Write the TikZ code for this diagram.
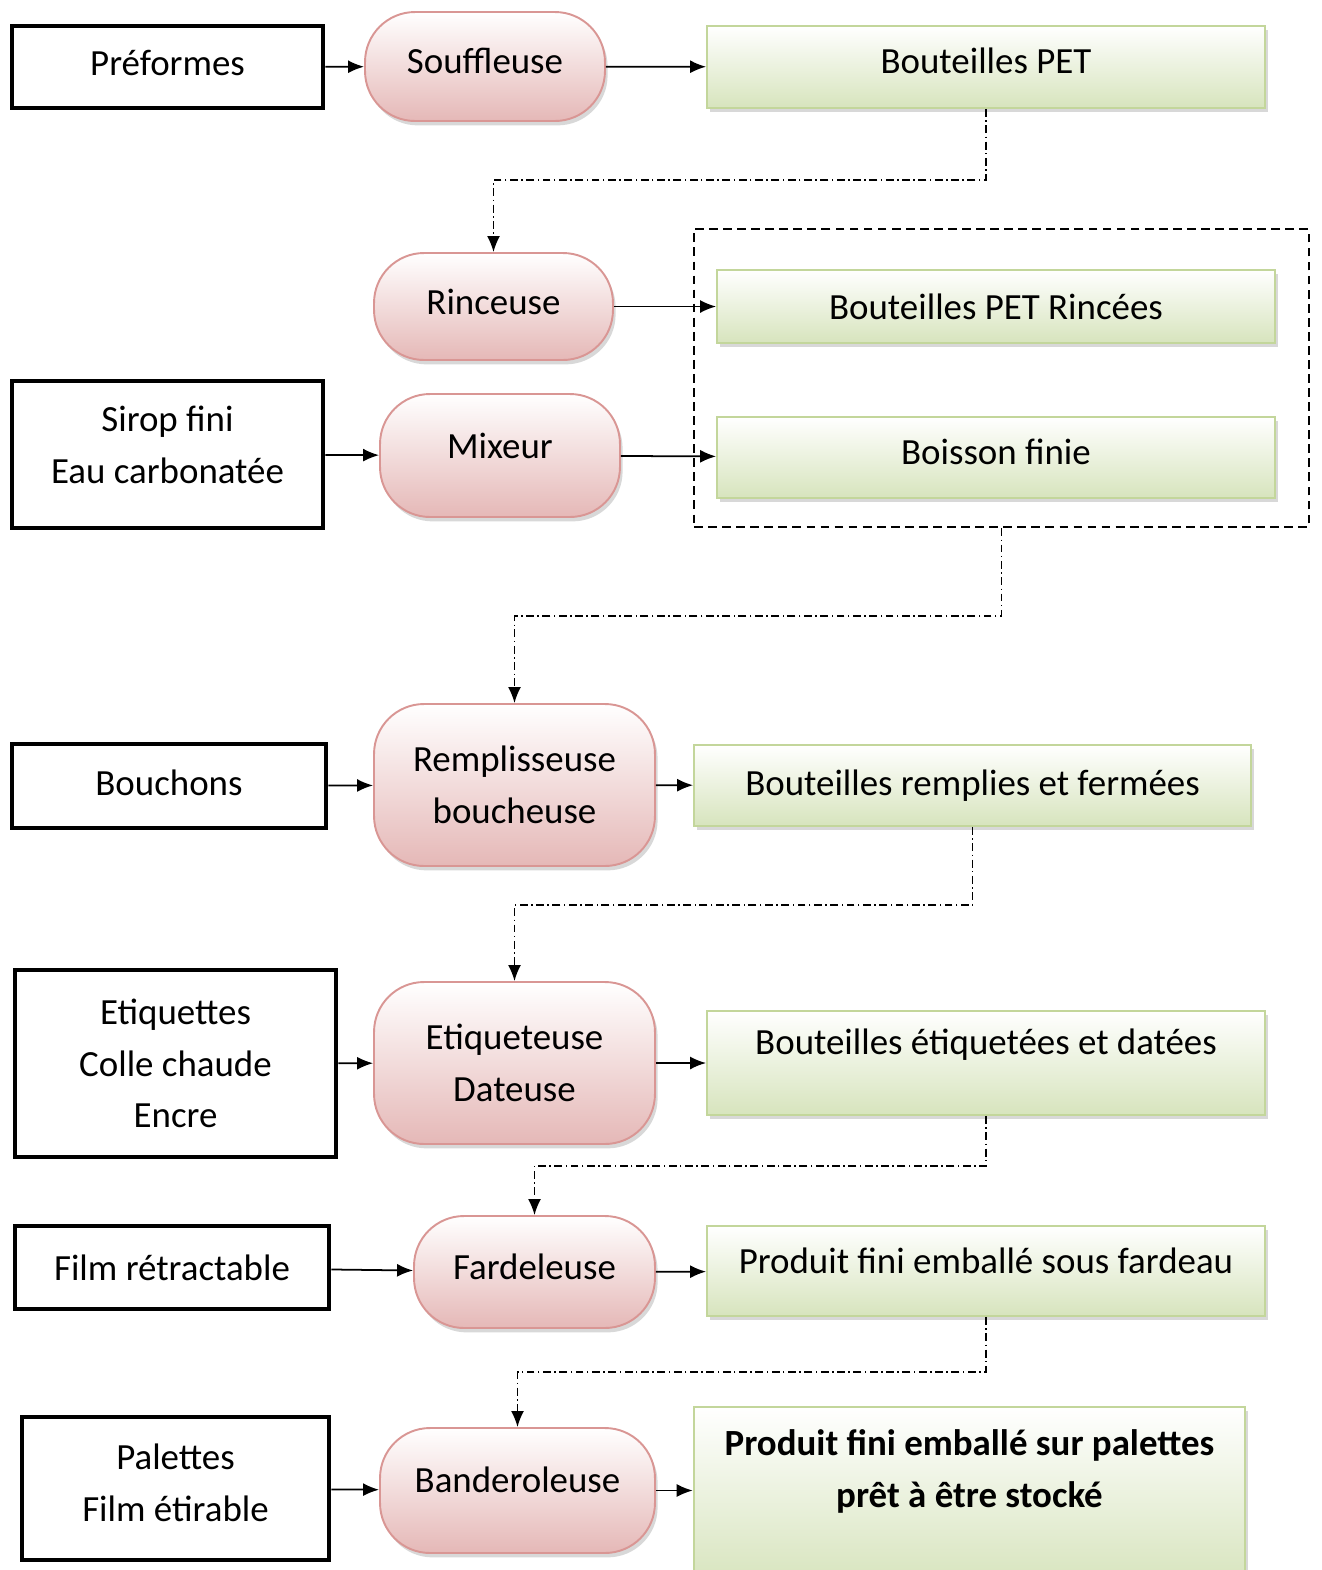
\documentclass[tikz,border=0pt]{standalone}
\usepackage{fontspec}
\setmainfont{Carlito}
\usetikzlibrary{shapes,arrows.meta,positioning,shadows}
\definecolor{procborder}{RGB}{217,150,148}
\definecolor{procfill}{RGB}{229,184,183}
\definecolor{outborder}{RGB}{195,214,155}
\definecolor{outfill}{RGB}{215,228,189}
\tikzset{
  bigfont/.style={font=\fontsize{21}{29.5}\selectfont},
  inbox/.style={draw, line width=2.8pt, align=center, bigfont},
  process/.style={draw=procborder, line width=1.1pt, rounded corners=1cm, top color=white, bottom color=procfill,
    drop shadow={shadow xshift=1.5pt, shadow yshift=-2.5pt, fill=gray!60}, align=center, bigfont},
  product/.style={draw=outborder, line width=1.1pt, top color=white, bottom color=outfill,
    drop shadow={shadow xshift=1.5pt, shadow yshift=-2.5pt, fill=gray!60}, minimum width=11.16cm, align=center, bigfont},
  flow/.style={-{Latex[length=0.32cm, width=0.26cm]}, line width=1pt},
  link/.style={flow, dash pattern=on 4.5pt off 2pt on 0.8pt off 2pt}
}

\begin{document}
\begin{tikzpicture}[x=0.02cm, y=-0.02cm]
        \useasboundingbox (0,0) rectangle (1322,1570);

        \node[draw, line width=1.4pt, dash pattern=on 5pt off 3pt, minimum width=12.3cm, minimum height=5.96cm] (grp) at (1001.5,378) {};

        \node[inbox, minimum width=6.22cm, minimum height=1.64cm, text depth=0.16cm] (pref) at (167.5,67) {Préformes};
        \node[process, minimum width=4.8cm, minimum height=2.18cm, text depth=0.24cm] (souf) at (485,66.5) {Souffleuse};
        \node[product, minimum height=1.64cm, text depth=0.24cm] (pet) at (986,67) {Bouteilles PET};

        \node[process, minimum width=4.78cm, minimum height=2.14cm, text depth=0.2cm] (rinc) at (493.5,306.5) {Rinceuse};
        \node[product, minimum height=1.46cm] (rincees) at (996,306.5) {Bouteilles PET Rincées};

        \node[inbox, minimum width=6.22cm, minimum height=2.94cm, text depth=0.4cm] (sirop) at (167.5,454.5) {Sirop fini\\Eau carbonatée};
        \node[process, minimum width=4.8cm, minimum height=2.46cm, text depth=0.4cm] (mix) at (500,455.5) {Mixeur};
        \node[product, minimum height=1.62cm, text depth=0.24cm] (boisson) at (996,457.5) {Boisson finie};

        \node[inbox, minimum width=6.28cm, minimum height=1.68cm, text depth=0.12cm] (bouch) at (169,786) {Bouchons};
        \node[process, minimum width=5.62cm, minimum height=3.24cm] (remp) at (514.5,785) {Remplisseuse\\boucheuse};
        \node[product, minimum width=11.14cm, minimum height=1.62cm, text depth=0.12cm] (remplies) at (972.5,785.5) {Bouteilles remplies et fermées};

        \node[inbox, minimum width=6.42cm, minimum height=3.74cm] (etiq) at (175.5,1063.5) {Etiquettes\\Colle chaude\\Encre};
        \node[process, minimum width=5.62cm, minimum height=3.24cm] (etiqd) at (514.5,1063) {Etiqueteuse\\Dateuse};
        \node[product, minimum height=2.08cm, text depth=0.87cm] (etiquetees) at (986,1063) {Bouteilles étiquetées et datées};

        \node[inbox, minimum width=6.28cm, minimum height=1.66cm] (film) at (172,1267.5) {Film rétractable};
        \node[process, minimum width=4.82cm, minimum height=2.24cm, text depth=0.2cm] (fard) at (534.5,1272) {Fardeleuse};
        \node[product, minimum height=1.8cm, text depth=0.43cm] (fardeau) at (986,1271) {Produit fini emballé sous fardeau};

        \node[inbox, minimum width=6.14cm, minimum height=2.86cm, text depth=0.24cm] (pal) at (175.5,1488.5) {Palettes\\Film étirable};
        \node[process, minimum width=5.5cm, minimum height=2.5cm, text depth=0.44cm] (band) at (517.5,1490.5) {Banderoleuse};
        \node[product, minimum width=11.02cm, minimum height=3.56cm] (final) at (969.5,1496)
          {\parbox[c][3.2cm][t]{10.8cm}{\vspace*{0.28cm}\centering\bfseries Produit fini emballé sur palettes\\prêt à être stocké}};

        \draw[flow] (pref) -- (souf);
        \draw[flow] (souf) -- (pet);
        \draw[flow] (rinc) -- (rincees);
        \draw[flow] (sirop) -- (mix);
        \draw[flow] (mix) -- (boisson);
        \draw[flow] (bouch) -- (remp);
        \draw[flow] (remp) -- (remplies);
        \draw[flow] (etiq) -- (etiqd);
        \draw[flow] (etiqd) -- (etiquetees);
        \draw[flow] (film) -- (fard);
        \draw[flow] (fard) -- (fardeau);
        \draw[flow] (pal) -- (band);
        \draw[flow] (band.east) -- (band.east -| final.west);

        \draw[link] (pet.south) -- ++(0,71) -| (rinc.north);
        \draw[link] (grp.south) -- ++(0,88) -| (remp.north);
        \draw[link] (remplies.south) -- ++(0,78) -| (etiqd.north);
        \draw[link] (etiquetees.south) -- ++(0,50) -| (fard.north);
        \draw[link] (fardeau.south) -- ++(0,55) -| (band.north);
    \end{tikzpicture}
\end{document}
